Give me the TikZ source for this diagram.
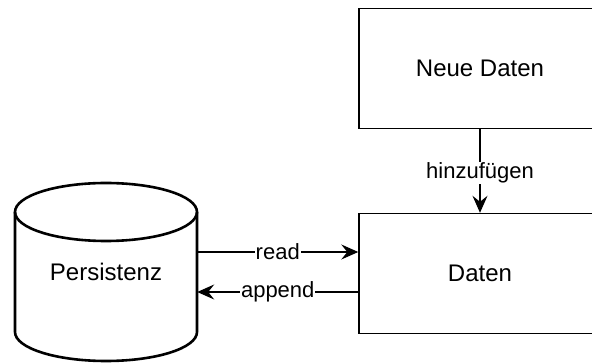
\documentclass[tikz,border=0pt]{standalone}
\usepackage{fontspec}
\setmainfont{Liberation Sans}
\usetikzlibrary{arrows.meta}
\begin{document}
\begin{tikzpicture}[x=1pt,y=-1pt,
  box/.style={draw, line width=1.4pt, minimum width=242pt, minimum height=120pt, inner sep=0pt, font=\fontsize{24}{28}\selectfont},
  lbl/.style={fill=white, inner sep=1pt, font=\fontsize{22}{26}\selectfont},
  conn/.style={line width=1.4pt, -{Stealth[length=17pt,width=15pt,inset=6pt]}},
  cyl/.style={line width=2.6pt}]
\useasboundingbox (0,0) rectangle (592,363);
\clip (0,0) rectangle (592,363);
\fill[white] (0,0) rectangle (592,363);
\node[box] (neue) at (480,68.5) {Neue Daten};
\node[box] (dat) at (480,273.5) {Daten};
% cylinder
\draw[cyl] (106,212) ellipse [x radius=91pt, y radius=29pt];
\draw[cyl] (15,212) -- (15,332) arc[start angle=180, end angle=360, x radius=91pt, y radius=29pt] -- (197,212);
\node[minimum width=182pt, minimum height=150pt, inner sep=0pt, font=\fontsize{24}{28}\selectfont] (pers) at (106,272) {Persistenz};
% connectors
\draw[conn] (neue) -- (dat) node[pos=0.5,yshift=-2pt,lbl] {hinzufügen};
\draw[conn] ([yshift=20pt]pers.east) -- ([yshift=20pt]pers.east -| dat.west) node[midway,lbl] {read};
\draw[conn] ([yshift=-20pt]pers.east -| dat.west) -- ([yshift=-20pt]pers.east) node[midway,lbl] {append};
\end{tikzpicture}
\end{document}
